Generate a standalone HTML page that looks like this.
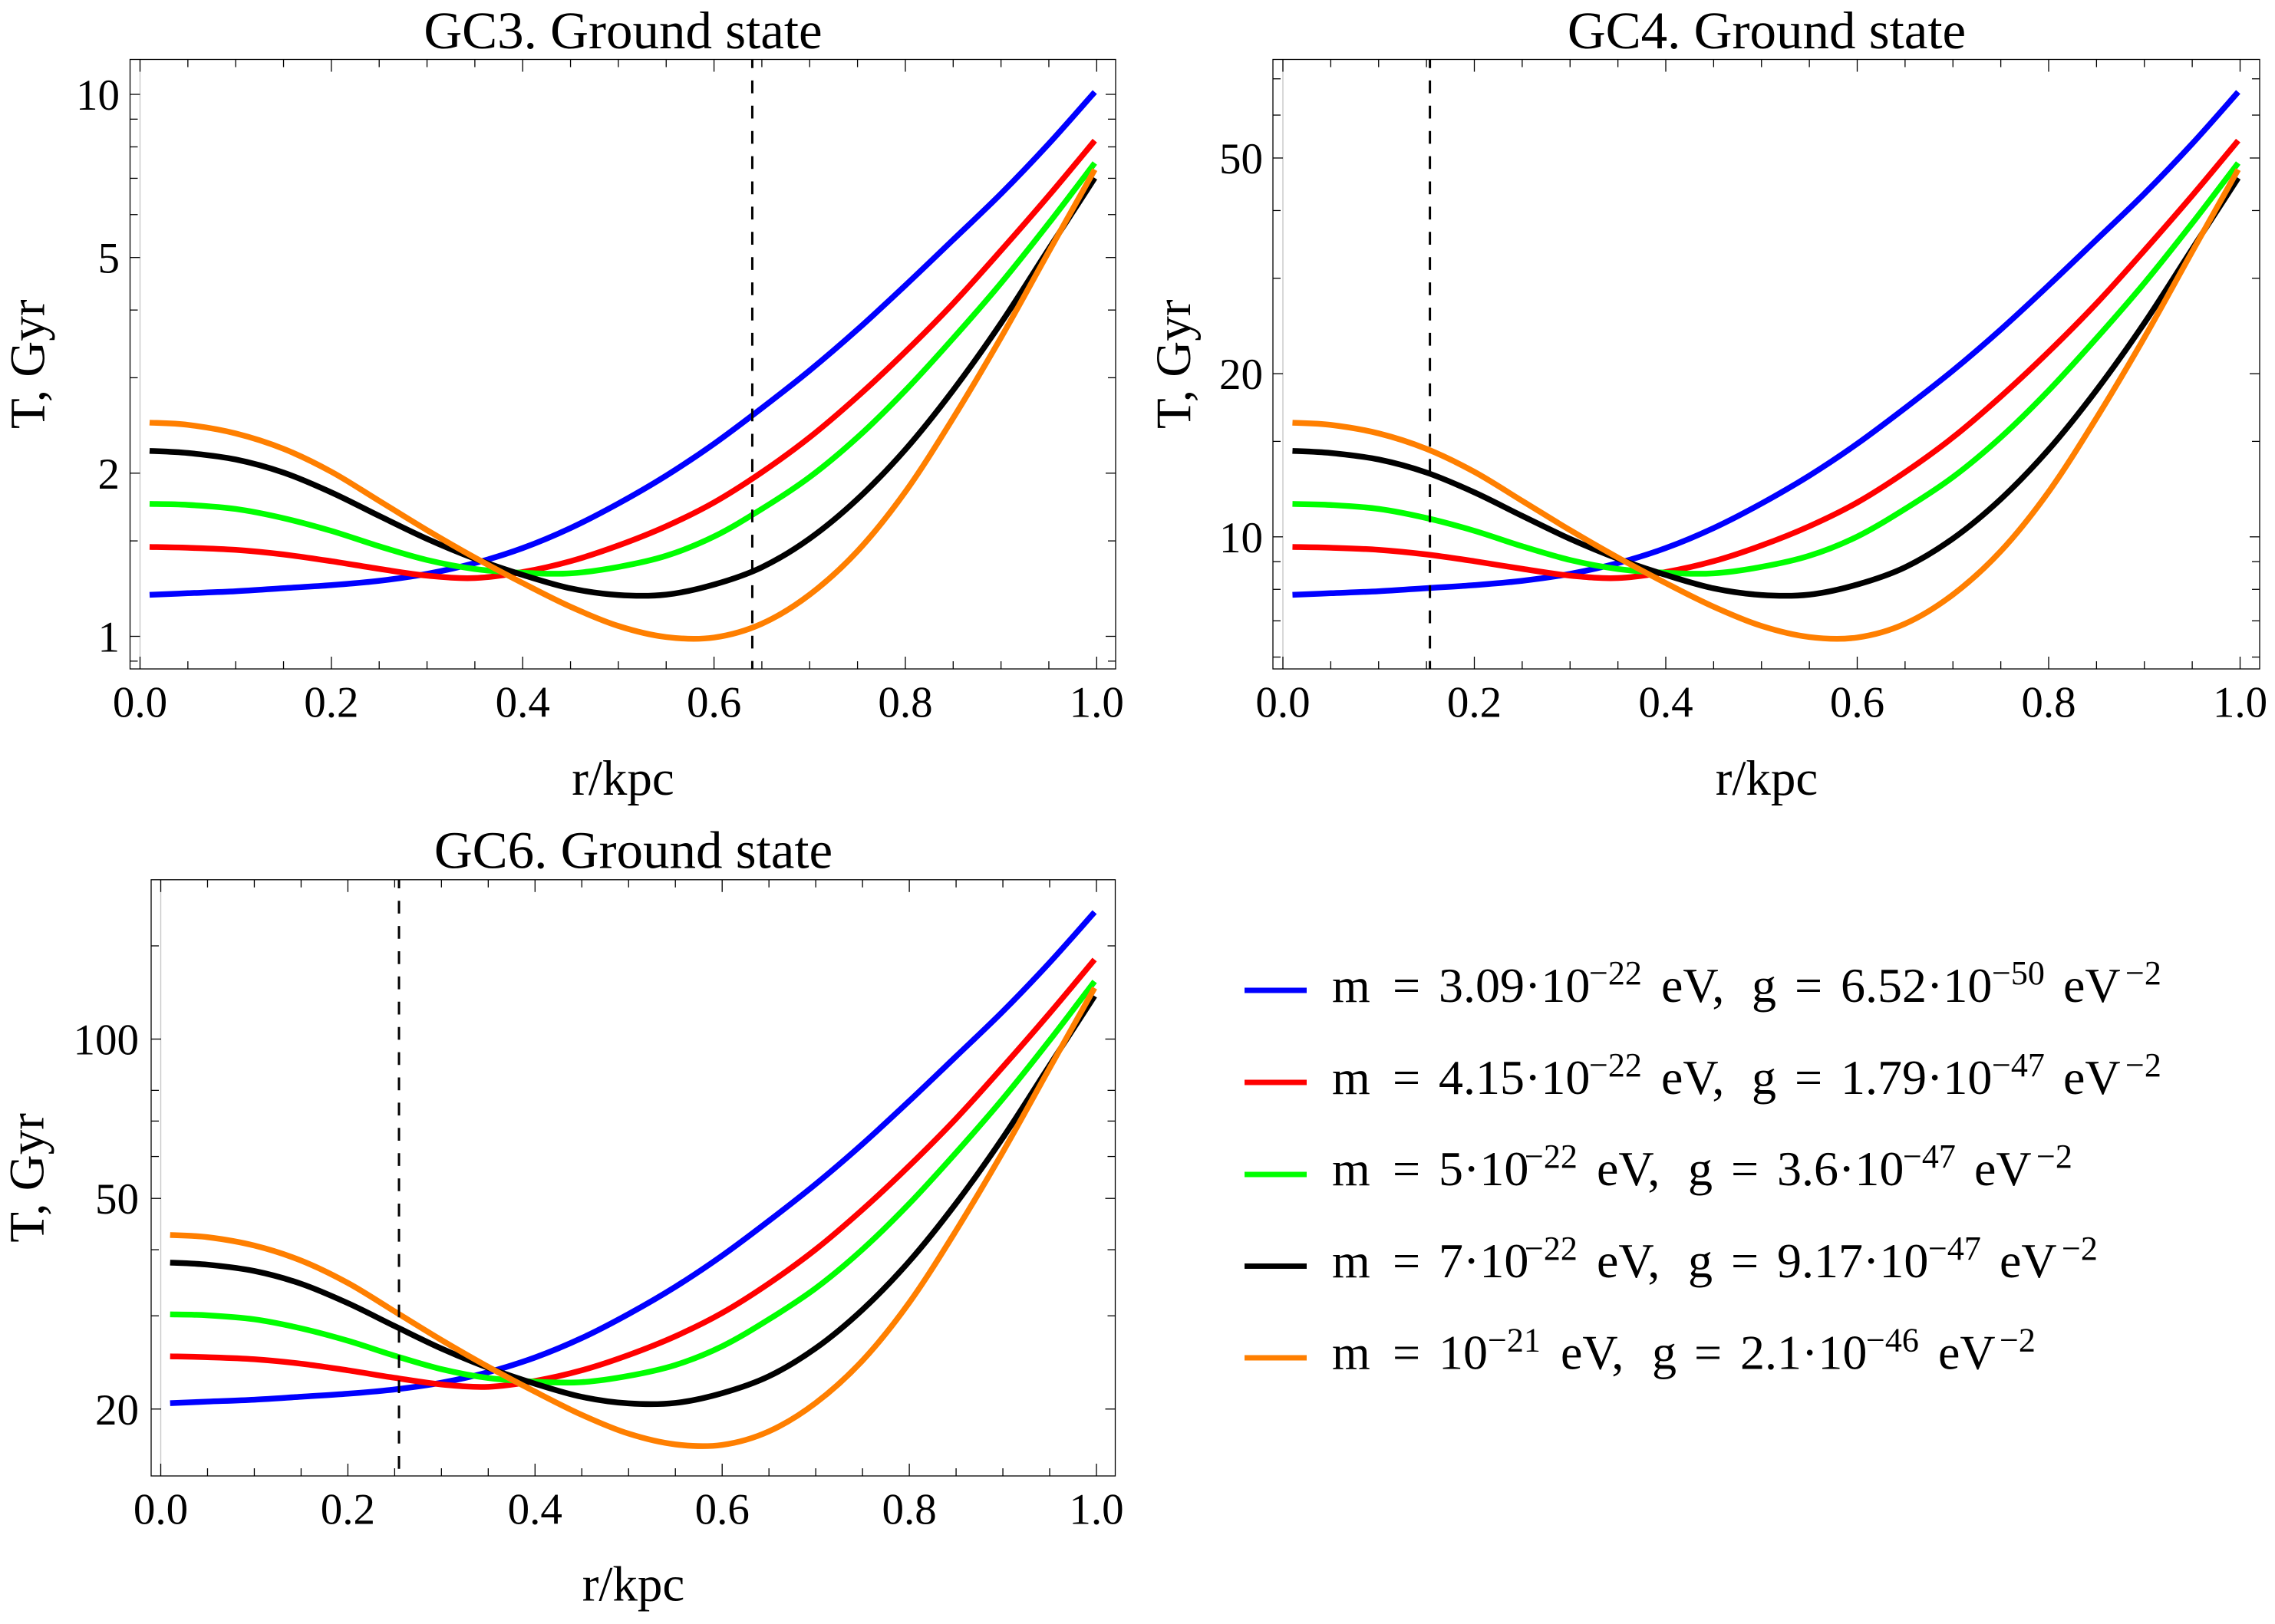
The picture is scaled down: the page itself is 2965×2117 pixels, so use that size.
<!DOCTYPE html>
<html lang="en">
<head>
<meta charset="utf-8">
<title>GC3, GC4, GC6 ground state T vs r</title>
<style>
html,body{margin:0;padding:0;background:#fff;}
svg{display:block;}
text{font-family:"Liberation Serif","DejaVu Serif",serif;fill:#000;}
.leg{font-size:64px;}
.sup{font-size:44px;}
</style>
</head>
<body>
<svg id="figure" xmlns="http://www.w3.org/2000/svg" width="2965" height="2117" viewBox="0 0 2965 2117">
<rect width="2965" height="2117" fill="#fff"/>
<g id="panels"></g>
<g>
<g>
<line x1="1622" x2="1703" y1="1291" y2="1291" stroke="#0000ff" stroke-width="7"/>
<text class="leg"><tspan x="1736" y="1306">m</tspan><tspan x="1815" y="1306">=</tspan><tspan x="1875" y="1306">3.09·10</tspan><tspan class="sup" x="2071" y="1283">−22</tspan><tspan x="2165" y="1306">eV,</tspan><tspan x="2283" y="1306">g</tspan><tspan x="2339" y="1306">=</tspan><tspan x="2399" y="1306">6.52·10</tspan><tspan class="sup" x="2596" y="1283">−50</tspan><tspan x="2689" y="1306">eV</tspan><tspan class="sup" x="2770" y="1283">−2</tspan></text>
</g>
<g>
<line x1="1622" x2="1703" y1="1411" y2="1411" stroke="#ff0000" stroke-width="7"/>
<text class="leg"><tspan x="1736" y="1426">m</tspan><tspan x="1815" y="1426">=</tspan><tspan x="1875" y="1426">4.15·10</tspan><tspan class="sup" x="2071" y="1403">−22</tspan><tspan x="2165" y="1426">eV,</tspan><tspan x="2283" y="1426">g</tspan><tspan x="2339" y="1426">=</tspan><tspan x="2399" y="1426">1.79·10</tspan><tspan class="sup" x="2596" y="1403">−47</tspan><tspan x="2689" y="1426">eV</tspan><tspan class="sup" x="2770" y="1403">−2</tspan></text>
</g>
<g>
<line x1="1622" x2="1703" y1="1531" y2="1531" stroke="#00ff00" stroke-width="7"/>
<text class="leg"><tspan x="1736" y="1545">m</tspan><tspan x="1815" y="1545">=</tspan><tspan x="1875" y="1545">5·10</tspan><tspan class="sup" x="1987" y="1522">−22</tspan><tspan x="2081" y="1545">eV,</tspan><tspan x="2200" y="1545">g</tspan><tspan x="2256" y="1545">=</tspan><tspan x="2316" y="1545">3.6·10</tspan><tspan class="sup" x="2480" y="1522">−47</tspan><tspan x="2573" y="1545">eV</tspan><tspan class="sup" x="2654" y="1522">−2</tspan></text>
</g>
<g>
<line x1="1622" x2="1703" y1="1650.5" y2="1650.5" stroke="#000" stroke-width="7"/>
<text class="leg"><tspan x="1736" y="1665">m</tspan><tspan x="1815" y="1665">=</tspan><tspan x="1875" y="1665">7·10</tspan><tspan class="sup" x="1987" y="1642">−22</tspan><tspan x="2081" y="1665">eV,</tspan><tspan x="2200" y="1665">g</tspan><tspan x="2256" y="1665">=</tspan><tspan x="2316" y="1665">9.17·10</tspan><tspan class="sup" x="2513" y="1642">−47</tspan><tspan x="2606" y="1665">eV</tspan><tspan class="sup" x="2687" y="1642">−2</tspan></text>
</g>
<g>
<line x1="1622" x2="1703" y1="1770" y2="1770" stroke="#ff7f00" stroke-width="7"/>
<text class="leg"><tspan x="1736" y="1784.5">m</tspan><tspan x="1815" y="1784.5">=</tspan><tspan x="1875" y="1784.5">10</tspan><tspan class="sup" x="1939" y="1761.5">−21</tspan><tspan x="2034" y="1784.5">eV,</tspan><tspan x="2153" y="1784.5">g</tspan><tspan x="2208" y="1784.5">=</tspan><tspan x="2268" y="1784.5">2.1·10</tspan><tspan class="sup" x="2432" y="1761.5">−46</tspan><tspan x="2526" y="1784.5">eV</tspan><tspan class="sup" x="2606" y="1761.5">−2</tspan></text>
</g>
</g>
</svg>
<script>
// Shared radial grid (r/kpc)
const rValues = [0.01,0.05,0.1,0.15,0.2,0.25,0.3,0.35,0.4,0.45,0.5,0.55,0.6,0.65,0.7,0.75,0.8,0.85,0.9,0.95,0.998];
const xMajorTicks = [0,0.2,0.4,0.6,0.8,1];
const xMinorTicks = [0.05,0.1,0.15,0.25,0.3,0.35,0.45,0.5,0.55,0.65,0.7,0.75,0.85,0.9,0.95];
const xTickLabels = ['0.0','0.2','0.4','0.6','0.8','1.0'];
const seriesNames = ['blue','red','green','black','orange'];
const seriesColors = ['#0000ff','#ff0000','#00ff00','#000000','#ff7f00'];

// GC3
const gc3Blue = [1.193,1.201,1.211,1.227,1.243,1.266,1.304,1.365,1.455,1.584,1.758,1.979,2.266,2.637,3.094,3.683,4.442,5.393,6.557,8.110,10.10];
const gc3Red = [1.462,1.457,1.444,1.416,1.376,1.332,1.294,1.281,1.314,1.376,1.471,1.596,1.766,2.008,2.329,2.769,3.350,4.114,5.152,6.505,8.216];
const gc3Green = [1.755,1.748,1.718,1.652,1.565,1.466,1.383,1.331,1.310,1.307,1.343,1.408,1.528,1.718,1.967,2.329,2.842,3.548,4.485,5.784,7.470];
const gc3Black = [2.199,2.179,2.120,2.005,1.843,1.668,1.513,1.391,1.298,1.226,1.192,1.194,1.246,1.341,1.515,1.792,2.211,2.846,3.785,5.186,7.010];
const gc3Orange = [2.479,2.456,2.368,2.218,2.012,1.778,1.570,1.397,1.254,1.134,1.045,0.997,0.995,1.055,1.194,1.436,1.848,2.528,3.559,5.127,7.264];
const gc3MajorTicks = [1,2,5,10];
const gc3MinorTicks = [0.9,1.5,3,4,6,7,8,9];
const gc3Radius = 0.64;

// GC4
const gc4Blue = [7.818,7.870,7.936,8.041,8.145,8.296,8.545,8.945,9.535,10.38,11.52,12.97,14.85,17.28,20.27,24.13,29.11,35.34,42.97,53.14,66.19];
const gc4Red = [9.580,9.548,9.463,9.279,9.017,8.729,8.480,8.394,8.611,9.017,9.639,10.46,11.57,13.16,15.26,18.15,21.95,26.96,33.76,42.63,53.84];
const gc4Green = [11.50,11.45,11.26,10.83,10.26,9.607,9.063,8.722,8.584,8.565,8.801,9.227,10.01,11.26,12.89,15.26,18.62,23.25,29.39,37.90,48.95];
const gc4Black = [14.41,14.28,13.89,13.14,12.08,10.93,9.915,9.115,8.506,8.034,7.811,7.824,8.165,8.787,9.928,11.74,14.49,18.65,24.80,33.98,45.94];
const gc4Orange = [16.24,16.09,15.52,14.53,13.18,11.65,10.29,9.155,8.217,7.431,6.848,6.533,6.520,6.913,7.824,9.410,12.11,16.57,23.32,33.60,47.60];
const gc4MajorTicks = [10,20,50];
const gc4MinorTicks = [6,7,8,9,15,30,40,60,70];
const gc4Radius = 0.1536;

// GC6
const gc6Blue = [20.52,20.66,20.83,21.10,21.38,21.78,22.43,23.48,25.03,27.24,30.24,34.04,38.98,45.36,53.22,63.35,76.40,92.76,112.8,139.5,173.7];
const gc6Red = [25.15,25.06,24.84,24.36,23.67,22.91,22.26,22.03,22.60,23.67,25.30,27.45,30.38,34.54,40.06,47.63,57.62,70.76,88.61,111.9,141.3];
const gc6Green = [30.19,30.07,29.55,28.41,26.92,25.22,23.79,22.89,22.53,22.48,23.10,24.22,26.28,29.55,33.83,40.06,48.88,61.03,77.14,99.48,128.5];
const gc6Black = [37.82,37.48,36.46,34.49,31.70,28.69,26.02,23.93,22.33,21.09,20.50,20.54,21.43,23.07,26.06,30.82,38.03,48.95,65.10,89.20,120.6];
const gc6Orange = [42.64,42.24,40.73,38.15,34.61,30.58,27.00,24.03,21.57,19.50,17.97,17.15,17.11,18.15,20.54,24.70,31.79,43.48,61.21,88.18,124.9];
const gc6MajorTicks = [20,50,100];
const gc6MinorTicks = [30,40,60,70,80,150];
const gc6Radius = 0.2546;

const NS = 'http://www.w3.org/2000/svg';
function mk(parent, tag, attrs, txt) {
  const el = document.createElementNS(NS, tag);
  for (const k in attrs) el.setAttribute(k, attrs[k]);
  if (txt !== undefined) el.textContent = txt;
  parent.appendChild(el);
  return el;
}
function smoothPath(pts) {
  let d = 'M' + pts[0][0].toFixed(2) + ' ' + pts[0][1].toFixed(2);
  for (let i = 0; i < pts.length - 1; i++) {
    const p0 = pts[Math.max(i - 1, 0)], p1 = pts[i], p2 = pts[i + 1], p3 = pts[Math.min(i + 2, pts.length - 1)];
    const c1x = p1[0] + (p2[0] - p0[0]) / 6, c1y = p1[1] + (p2[1] - p0[1]) / 6;
    const c2x = p2[0] - (p3[0] - p1[0]) / 6, c2y = p2[1] - (p3[1] - p1[1]) / 6;
    d += 'C' + c1x.toFixed(2) + ' ' + c1y.toFixed(2) + ' ' + c2x.toFixed(2) + ' ' + c2y.toFixed(2) + ' ' + p2[0].toFixed(2) + ' ' + p2[1].toFixed(2);
  }
  return d;
}

function drawPanel(p) {
  const root = document.getElementById('panels');
  const g = mk(root, 'g', {});
  
  
  const xOf = r => p.x0 + (p.x1 - p.x0) * r;
  const yOf = v => p.yRef - p.decade * Math.log10(v / p.vRef);

  const zero = mk(g, 'line', {x1: xOf(0), x2: xOf(0), y1: p.top, y2: p.bottom, stroke: '#c8c8c8', 'stroke-width': 1.4});
  
  

  const frame = mk(g, 'rect', {x: p.left, y: p.top, width: p.right - p.left, height: p.bottom - p.top, fill: 'none', stroke: '#000', 'stroke-width': 1.3});
  
  

  function xTick(r, len) {
    const a = mk(g, 'line', {x1: xOf(r), x2: xOf(r), y1: p.bottom, y2: p.bottom - len, stroke: '#000', 'stroke-width': 1.3});
    
    
    const b = mk(g, 'line', {x1: xOf(r), x2: xOf(r), y1: p.top, y2: p.top + len, stroke: '#000', 'stroke-width': 1.3});
    
    
  }
  function yTick(v, len) {
    const a = mk(g, 'line', {x1: p.left, x2: p.left + len, y1: yOf(v), y2: yOf(v), stroke: '#000', 'stroke-width': 1.3});
    
    
    const b = mk(g, 'line', {x1: p.right, x2: p.right - len, y1: yOf(v), y2: yOf(v), stroke: '#000', 'stroke-width': 1.3});
    
    
  }
  xMajorTicks.forEach(r => xTick(r, 16));
  xMinorTicks.forEach(r => xTick(r, 10));
  p.majorTicks.forEach(v => yTick(v, 13));
  p.minorTicks.forEach(v => yTick(v, 10));

  xMajorTicks.forEach((r, i) => {
    const t = mk(g, 'text', {x: xOf(r), y: p.bottom + 62.5, 'text-anchor': 'middle', 'font-size': 57}, xTickLabels[i]);
    
    
  });
  p.majorTicks.forEach(v => {
    const t = mk(g, 'text', {x: p.labelRight, y: yOf(v) + 20, 'text-anchor': 'end', 'font-size': 57}, String(v));
    
    
  });

  p.series.forEach((vals, i) => {
    const pts = rValues.map((r, k) => [xOf(r), yOf(vals[k])]);
    const path = mk(g, 'path', {d: smoothPath(pts), fill: 'none', stroke: seriesColors[i], 'stroke-width': 7.5, 'stroke-linejoin': 'round'});
    
    
  });

  const dash = mk(g, 'line', {x1: xOf(p.radius), x2: xOf(p.radius), y1: p.top, y2: p.bottom, stroke: '#000', 'stroke-width': 3, 'stroke-dasharray': '16.7 16.2', 'stroke-dashoffset': 5.5});
  
  

  const title = mk(g, 'text', {x: p.titleX, y: p.titleY, 'text-anchor': 'middle', 'font-size': 69}, p.title);
  
  

  const xl = mk(g, 'text', {x: p.titleX, y: p.xLabelY, 'text-anchor': 'middle', 'font-size': 65}, 'r/kpc');
  
  

  const cy = (p.top + p.bottom) / 2;
  const yl = mk(g, 'text', {x: p.yLabelX, y: cy, 'text-anchor': 'middle', 'font-size': 65, transform: 'rotate(-90 ' + p.yLabelX + ' ' + cy + ')'}, 'T, Gyr');
  
  
}

drawPanel({name: 'gc3', title: 'GC3. Ground state', left: 169.5, right: 1454, top: 77.5, bottom: 872, x0: 182.5, x1: 1429.3, vRef: 1, yRef: 829.5, decade: 706.5, labelRight: 156, titleX: 812, titleY: 63, xLabelY: 1036, yLabelX: 57.4, radius: gc3Radius, majorTicks: gc3MajorTicks, minorTicks: gc3MinorTicks, series: [gc3Blue, gc3Red, gc3Green, gc3Black, gc3Orange]});
drawPanel({name: 'gc4', title: 'GC4. Ground state', left: 1659, right: 2945, top: 77.5, bottom: 872, x0: 1672, x1: 2919.5, vRef: 10, yRef: 699.8, decade: 706.5, labelRight: 1646, titleX: 2302.5, titleY: 63, xLabelY: 1036, yLabelX: 1551, radius: gc4Radius, majorTicks: gc4MajorTicks, minorTicks: gc4MinorTicks, series: [gc4Blue, gc4Red, gc4Green, gc4Black, gc4Orange]});
drawPanel({name: 'gc6', title: 'GC6. Ground state', left: 197, right: 1453.5, top: 1146.8, bottom: 1924, x0: 209.5, x1: 1429, vRef: 100, yRef: 1354.5, decade: 690, labelRight: 181, titleX: 825.5, titleY: 1131.6, xLabelY: 2086.6, yLabelX: 56.6, radius: gc6Radius, majorTicks: gc6MajorTicks, minorTicks: gc6MinorTicks, series: [gc6Blue, gc6Red, gc6Green, gc6Black, gc6Orange]});
</script>
</body>
</html>
